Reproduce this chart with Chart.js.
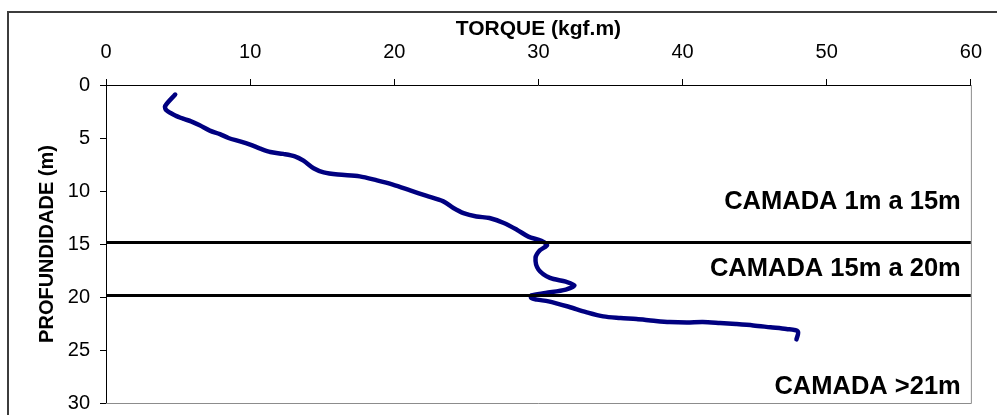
<!DOCTYPE html>
<html>
<head>
<meta charset="utf-8">
<script src="https://cdn.jsdelivr.net/npm/chart.js@4"></script>
<style>
  html, body { margin: 0; padding: 0; background: #ffffff; overflow: hidden; }
  canvas { display: block; }
</style>
</head>
<body>
<canvas id="torqueChart" width="997" height="415"></canvas>
<script>
// ----------------------------------------------------
// TORQUE x PROFUNDIDADE
// ----------------------------------------------------

// torque reading (kgf.m) and depth (m), in drilling order
const torqueValues = [
  4.8, 4.1, 4.2, 4.8, 5.4, 5.9, 6.5, 7.2, 7.9, 8.5,
  9.3, 10.0, 10.7, 11.4, 12.3, 13.1, 13.7, 14.4, 15.1, 16.1,
  17.6, 18.8, 19.9, 21.1, 22.2, 23.4, 24.1, 24.8, 25.7, 26.6,
  27.6, 28.5, 29.3, 30.2, 30.6, 30.1, 29.8, 30.0, 30.8, 31.9,
  32.5, 31.9, 30.5, 29.5, 29.5, 29.9, 30.7, 32.1, 33.3, 34.5,
  35.7, 36.8, 38.0, 39.1, 40.3, 41.4, 42.6, 43.7, 44.9, 46.1,
  47.2, 48.0, 47.9
];
const depthValues = [
  0.9, 2.0, 2.4, 2.87, 3.2, 3.43, 3.8, 4.3, 4.63, 5.0,
  5.32, 5.63, 6.0, 6.32, 6.5, 6.73, 7.14, 7.85, 8.24, 8.45,
  8.62, 9.0, 9.4, 9.94, 10.44, 10.98, 11.6, 12.08, 12.4, 12.55,
  13.02, 13.65, 14.3, 14.7, 15.1, 15.6, 16.3, 17.4, 18.2, 18.55,
  18.9, 19.3, 19.62, 19.85, 20.1, 20.25, 20.41, 20.92, 21.42, 21.83,
  21.98, 22.08, 22.24, 22.36, 22.4, 22.36, 22.45, 22.55, 22.68, 22.86,
  23.02, 23.25, 24.0
];

// layer boundaries and their captions
const layerDepths = [14.85, 19.85];
const layerLabels = ['CAMADA 1m a 15m', 'CAMADA 15m a 20m', 'CAMADA >21m'];
const layerLabelDepths = [11, 17.35, 28.5];
const layerLabelTorque = 59.3;

const xTicks = { min: 0, max: 60, step: 10 };
const yTicks = { min: 0, max: 30, step: 5 };

const FONT = "'Liberation Sans', Arial, sans-serif";

const curvePoints = torqueValues.map((t, i) => ({ x: t, y: depthValues[i] }));

const boundarySets = layerDepths.map(d => ({
  data: [{ x: xTicks.min, y: d }, { x: xTicks.max, y: d }],
  borderColor: '#000000',
  borderWidth: 3,
  pointRadius: 0,
  showLine: true,
  order: 0
}));

// frame, plot border and layer captions
const decorPlugin = {
  id: 'decor',
  beforeDraw(chart) {
    const c = chart.ctx;
    c.save();
    c.strokeStyle = '#3c3c3c';
    c.lineWidth = 2;
    c.strokeRect(8, 12, chart.width + 20, chart.height + 20);
    c.restore();
  },
  afterDatasetsDraw(chart) {
    const c = chart.ctx;
    const a = chart.chartArea;
    const xs = chart.scales.x, ys = chart.scales.y;
    c.save();
    c.strokeStyle = '#8c8c8c';
    c.lineWidth = 1;
    c.beginPath();
    c.moveTo(a.right + 0.5, a.top);
    c.lineTo(a.right + 0.5, a.bottom + 0.5);
    c.lineTo(a.left, a.bottom + 0.5);
    c.stroke();

    c.fillStyle = '#000000';
    c.font = `bold 25.5px ${FONT}`;
    c.textAlign = 'right';
    c.textBaseline = 'middle';
    layerLabels.forEach((txt, i) => {
      c.fillText(txt, xs.getPixelForValue(layerLabelTorque), ys.getPixelForValue(layerLabelDepths[i]));
    });
    c.restore();
  }
};

new Chart(document.getElementById('torqueChart'), {
  type: 'scatter',
  data: {
    datasets: [
      ...boundarySets,
      {
        data: curvePoints,
        borderColor: '#000080',
        borderWidth: 4.5,
        borderCapStyle: 'round',
        borderJoinStyle: 'round',
        pointRadius: 0,
        showLine: true,
        tension: 0.3,
        order: 1
      }
    ]
  },
  options: {
    responsive: false,
    animation: false,
    layout: { padding: { left: 0, top: 0, right: 26, bottom: 0 } },
    plugins: { legend: { display: false }, tooltip: { enabled: false } },
    scales: {
      x: {
        type: 'linear',
        position: 'top',
        min: xTicks.min,
        max: xTicks.max,
        afterFit: s => { s.height = 85; },
        ticks: { stepSize: xTicks.step, color: '#000', padding: 15, font: { family: FONT, size: 20 } },
        grid: { drawOnChartArea: false, drawTicks: true, tickLength: 6, tickColor: '#000' },
        border: { display: true, color: '#000', width: 1 },
        title: {
          display: true,
          text: 'TORQUE (kgf.m)',
          color: '#000',
          padding: { top: 17, bottom: 0 },
          font: { family: FONT, size: 21, weight: 'bold' }
        }
      },
      y: {
        type: 'linear',
        reverse: true,
        min: yTicks.min,
        max: yTicks.max,
        afterFit: s => { s.width = 106; s.paddingTop = 0; s.paddingBottom = 12; },
        ticks: { stepSize: yTicks.step, color: '#000', padding: 10, font: { family: FONT, size: 20 } },
        grid: { drawOnChartArea: false, drawTicks: true, tickLength: 6, tickColor: '#000' },
        border: { display: true, color: '#000', width: 1 },
        title: {
          display: true,
          text: 'PROFUNDIDADE (m)',
          color: '#000',
          padding: { top: 35, bottom: 0 },
          font: { family: FONT, size: 20, weight: 'bold' }
        }
      }
    }
  },
  plugins: [decorPlugin]
});
</script>
</body>
</html>
